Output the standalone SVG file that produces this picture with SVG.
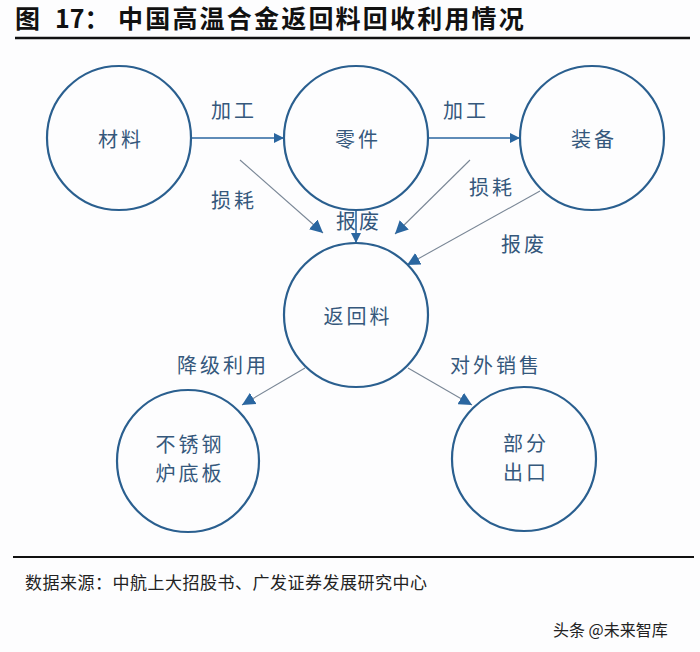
<svg xmlns="http://www.w3.org/2000/svg" width="700" height="652" viewBox="0 0 700 652">
<defs>
<style>
.node{fill:none;stroke:#2a5f8f;stroke-width:2.2}
.nt{font-family:"Noto Sans CJK SC","Noto Sans",sans-serif;font-size:20px;fill:#35587c;text-anchor:middle;letter-spacing:3px}
.lb{font-family:"Noto Sans CJK SC","Noto Sans",sans-serif;font-size:20px;fill:#35587c;text-anchor:middle;letter-spacing:3px}
.main{stroke:#2a66a0;stroke-width:1.6;fill:none}
.thin{stroke:#7a8796;stroke-width:1.1;fill:none}
.title{font-family:"Noto Sans CJK SC","Noto Sans",sans-serif;font-size:25px;font-weight:bold;fill:#111}
.src{font-family:"Noto Sans CJK SC","Noto Sans",sans-serif;font-size:17px;fill:#222;letter-spacing:0.5px}
</style>
<marker id="ah" viewBox="0 0 10 10" refX="10" refY="5" markerWidth="10" markerHeight="10" markerUnits="userSpaceOnUse" orient="auto">
<path d="M0,0 L10,5 L0,10 Z" fill="#2a66a0"/>
</marker>
<marker id="ah2" viewBox="0 0 10 10" refX="10" refY="5" markerWidth="13" markerHeight="13" markerUnits="userSpaceOnUse" orient="auto">
<path d="M0,0 L10,5 L0,10 Z" fill="#2a66a0"/>
</marker>
</defs>
<rect width="700" height="652" fill="#fdfdfe"/>
<g id="title">
<text class="title" x="15" y="28">图</text>
<text class="title" x="55" y="28">17：</text>
<text class="title" x="118" y="28" letter-spacing="2.2">中国高温合金返回料回收利用情况</text>
<line x1="15" y1="38" x2="690" y2="38" stroke="#111" stroke-width="2.5"/>
</g>
<g id="connectors">
<line class="main" x1="191" y1="138" x2="284" y2="138" marker-end="url(#ah)"/>
<line class="main" x1="428" y1="138" x2="520" y2="138" marker-end="url(#ah)"/>
<line class="main" x1="356" y1="210" x2="356" y2="243" marker-end="url(#ah)"/>
<line class="thin" x1="240" y1="160" x2="323" y2="233" marker-end="url(#ah2)"/>
<line class="thin" x1="470" y1="160" x2="395" y2="234" marker-end="url(#ah2)"/>
<line class="thin" x1="540" y1="191" x2="407" y2="265" marker-end="url(#ah2)"/>
<line class="thin" x1="305" y1="368" x2="242" y2="405" marker-end="url(#ah2)"/>
<line class="thin" x1="408" y1="368" x2="472" y2="405" marker-end="url(#ah2)"/>
<text class="lb" x="234" y="118">加工</text>
<text class="lb" x="466" y="118">加工</text>
<text class="lb" x="234" y="208">损耗</text>
<text class="lb" x="359" y="229">报废</text>
<text class="lb" x="492" y="195">损耗</text>
<text class="lb" x="524" y="252">报废</text>
<text class="lb" x="223" y="373">降级利用</text>
<text class="lb" x="496" y="373">对外销售</text>
</g>
<g id="n-cailiao">
<circle class="node" cx="119" cy="138" r="72"/>
<text class="nt" x="121" y="147">材料</text>
</g>
<g id="n-lingjian">
<circle class="node" cx="356" cy="138" r="72"/>
<text class="nt" x="358" y="147">零件</text>
</g>
<g id="n-zhuangbei">
<circle class="node" cx="592" cy="138" r="72"/>
<text class="nt" x="594" y="147">装备</text>
</g>
<g id="n-fanhuiliao">
<circle class="node" cx="356" cy="315" r="72"/>
<text class="nt" x="358" y="324">返回料</text>
</g>
<g id="n-buxiugang">
<circle class="node" cx="188" cy="461" r="71"/>
<text class="nt" x="190" y="452">不锈钢</text>
<text class="nt" x="190" y="481">炉底板</text>
</g>
<g id="n-bufenchukou">
<circle class="node" cx="524" cy="459" r="72"/>
<text class="nt" x="526" y="451">部分</text>
<text class="nt" x="526" y="480">出口</text>
</g>
<g id="footer">
<line x1="13" y1="557" x2="694" y2="557" stroke="#111" stroke-width="2"/>
<text class="src" x="25" y="589">数据来源：中航上大招股书、广发证券发展研究中心</text>
<text x="553" y="636" font-family="'Noto Sans CJK SC','Noto Sans',sans-serif" font-size="16" fill="#222">头条 @未来智库</text>
</g>
</svg>
